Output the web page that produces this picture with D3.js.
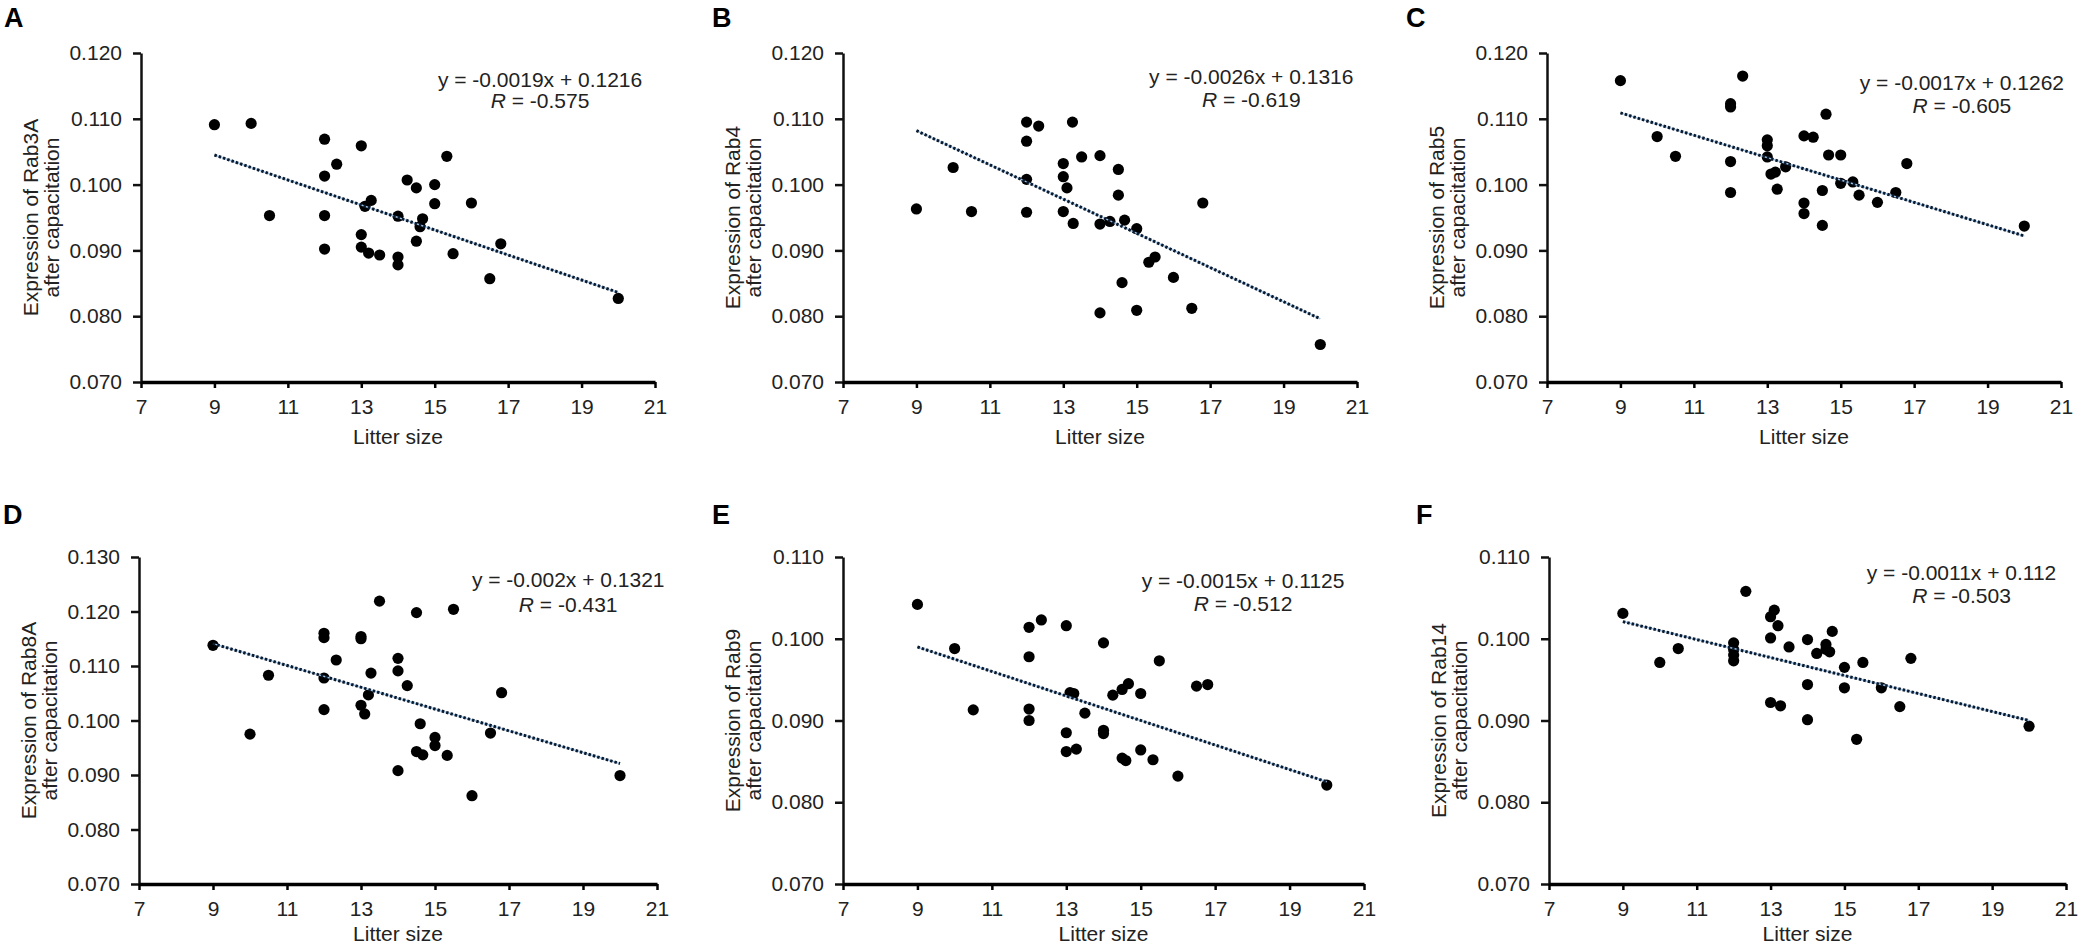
<!DOCTYPE html>
<html>
<head>
<meta charset="utf-8">
<script src="https://cdn.jsdelivr.net/npm/d3@7"></script>
<style>
  html, body { margin: 0; padding: 0; background: #fff; }
  svg { display: block; }
  text { font-family: "Liberation Sans", Arial, "DejaVu Sans", sans-serif; }
</style>
</head>
<body>
<svg id="chart" width="2082" height="948"></svg>
<script>
// ---------------- DATA ----------------
const panelLetters = ["A", "B", "C", "D", "E", "F"];
const genes = ["Rab3A", "Rab4", "Rab5", "Rab8A", "Rab9", "Rab14"];
const slopes = [-0.0019, -0.0026, -0.0017, -0.002, -0.0015, -0.0011];
const intercepts = [0.1216, 0.1316, 0.1262, 0.1321, 0.1125, 0.112];
const rValues = ["-0.575", "-0.619", "-0.605", "-0.431", "-0.512", "-0.503"];
const yMins = [0.070, 0.070, 0.070, 0.070, 0.070, 0.070];
const yMaxes = [0.120, 0.120, 0.120, 0.130, 0.110, 0.110];
const xTickValues = [7, 9, 11, 13, 15, 17, 19, 21];
const fitRange = [9, 20];

const xA = [9,10,10.5,12,12,12,12,12.33,13,13,13,13.1,13.27,13.2,13.5,14,14,14,14.25,14.5,14.5,14.67,14.6,15,15,15.33,15.5,16,16.5,16.8,20];
const yA = [0.1091,0.1093,0.0953,0.1069,0.1013,0.0953,0.0902,0.1031,0.1059,0.0924,0.0905,0.0967,0.0976,0.0896,0.0893,0.0952,0.0890,0.0878,0.1007,0.0995,0.0914,0.0948,0.0936,0.1000,0.0971,0.1043,0.0895,0.0972,0.0857,0.0910,0.0827];

const xB = [9,10,10.5,12,12,12,12,12.33,13.25,13,13,13.1,13,13.27,13.5,14,14,14,14.27,14.5,14.5,14.6,14.67,15,15,15.33,15.5,16,16.5,16.8,20];
const yB = [0.0963,0.1026,0.0959,0.1095,0.1066,0.1008,0.0958,0.1089,0.1095,0.1032,0.1012,0.0995,0.0959,0.0941,0.1042,0.1044,0.0940,0.0805,0.0944,0.1023,0.0984,0.0851,0.0946,0.0933,0.0809,0.0882,0.0890,0.0859,0.0812,0.0972,0.0757];

const xC = [9,10,10.5,12,12,12,12,12.33,13,13,13,13.1,13.22,13.27,13.5,14,14,14,14.25,14.6,14.5,14.5,14.67,15,15,15.33,15.5,16,16.5,16.8,20];
const yC = [0.1158,0.1073,0.1043,0.1123,0.1118,0.1035,0.0988,0.1165,0.1068,0.1059,0.1042,0.1016,0.1019,0.0993,0.1027,0.1074,0.0972,0.0956,0.1072,0.1107,0.0991,0.0938,0.1045,0.1045,0.1002,0.1004,0.0984,0.0973,0.0988,0.1032,0.0937];

const xD = [9,10,10.5,12,12,12,12,12.33,13,13,13,13.1,13.2,13.27,13.5,14,14,14,14.25,14.5,14.5,14.6,14.67,15,15,15.33,15.5,16,16.5,16.8,20];
const yD = [0.1138,0.0975,0.1083,0.1160,0.1152,0.1078,0.1020,0.1111,0.1154,0.1150,0.1028,0.1012,0.1047,0.1087,0.1219,0.1114,0.1091,0.0908,0.1064,0.1198,0.0943,0.0994,0.0937,0.0969,0.0954,0.0936,0.1204,0.0862,0.0977,0.1051,0.0899];

const xE = [9,10,10.5,12,12,12,12,12.33,13,13,13,13.1,13.2,13.27,13.5,14,14,14,14.25,14.5,14.5,14.67,14.6,15,15,15.33,15.5,16,16.5,16.8,20];
const yE = [0.1042,0.0988,0.0913,0.1014,0.0978,0.0914,0.0900,0.1023,0.1016,0.0885,0.0862,0.0934,0.0933,0.0865,0.0909,0.0995,0.0888,0.0884,0.0931,0.0938,0.0854,0.0945,0.0851,0.0933,0.0864,0.0852,0.0973,0.0832,0.0942,0.0944,0.0821];

const xF = [9,10,10.5,12,12,12,12,12.33,13,13.1,13,13,13.2,13.27,13.5,14,14,14,14.25,14.5,14.6,14.67,15,15,15.33,15.5,16,16.5,16.8,20,14.5];
const yF = [0.1031,0.0971,0.0988,0.0995,0.0987,0.0980,0.0973,0.1058,0.1027,0.1035,0.1001,0.0922,0.1016,0.0918,0.0990,0.0999,0.0944,0.0901,0.0982,0.0993,0.0984,0.1009,0.0965,0.0940,0.0877,0.0971,0.0940,0.0917,0.0976,0.0893,0.0987];

const xSeries = [xA, xB, xC, xD, xE, xF];
const ySeries = [yA, yB, yC, yD, yE, yF];

// ---------------- LAYOUT ----------------
const frames = [
  { l: 141, r: 655,  t: 53,  b: 382 },
  { l: 843, r: 1357, t: 53,  b: 382 },
  { l: 1547, r: 2061, t: 53, b: 382 },
  { l: 139, r: 657,  t: 557, b: 884 },
  { l: 843, r: 1364, t: 557, b: 884 },
  { l: 1549, r: 2066, t: 557, b: 884 }
];
const letterPos = [[4, 27], [712, 27], [1406, 27], [3, 524], [712, 524], [1416, 524]];
const eqCenterX = [17.87, 18.12, 18.3, 18.6, 17.75, 18.17]; // in x-data units
const eqOffsetY = [[27, 48], [24, 47], [30, 53], [23, 48], [24, 47], [16, 39]];

const FONT = 21;
const TEXT_COLOR = "#222";

const svg = d3.select("#chart");
svg.append("rect").attr("width", 2082).attr("height", 948).attr("fill", "#fff");

panelLetters.forEach((letter, i) => {
  const f = frames[i];
  const x = d3.scaleLinear().domain([7, 21]).range([f.l, f.r]);
  const y = d3.scaleLinear().domain([yMins[i], yMaxes[i]]).range([f.b, f.t]);
  const g = svg.append("g");

  // panel letter
  g.append("text")
    .attr("x", letterPos[i][0]).attr("y", letterPos[i][1])
    .attr("font-size", 27).attr("font-weight", "bold").attr("fill", "#000")
    .text(letter);

  // y axis
  const yTicks = d3.range(Math.round(yMins[i] * 1000), Math.round(yMaxes[i] * 1000) + 1, 10).map(v => v / 1000);
  const yAxis = g.append("g")
    .attr("transform", `translate(${f.l},0)`)
    .call(d3.axisLeft(y).tickValues(yTicks).tickFormat(d3.format(".3f")).tickSize(8).tickSizeOuter(0).tickPadding(11));
  yAxis.select(".domain").attr("stroke", "#111").attr("stroke-width", 2.5);
  yAxis.selectAll(".tick line").attr("stroke", "#111").attr("stroke-width", 2.5);
  yAxis.selectAll(".tick text").attr("font-size", FONT).attr("fill", TEXT_COLOR)
    .style("font-family", '"Liberation Sans", Arial, sans-serif');

  // x axis
  const xAxis = g.append("g")
    .attr("transform", `translate(0,${f.b})`)
    .call(d3.axisBottom(x).tickValues(xTickValues).tickFormat(d3.format("d")).tickSize(6).tickSizeOuter(0).tickPadding(11));
  xAxis.select(".domain").attr("stroke", "#000").attr("stroke-width", 3.5);
  xAxis.selectAll(".tick line").attr("stroke", "#000").attr("stroke-width", 2.5);
  xAxis.selectAll(".tick text").attr("font-size", FONT).attr("fill", TEXT_COLOR)
    .style("font-family", '"Liberation Sans", Arial, sans-serif');

  // axis titles
  g.append("text")
    .attr("x", (f.l + f.r) / 2).attr("y", Math.min(f.b + 62, 941))
    .attr("text-anchor", "middle").attr("font-size", FONT).attr("fill", TEXT_COLOR)
    .text("Litter size");

  const cy = (f.t + f.b) / 2;
  const yt = g.append("text")
    .attr("transform", `translate(${f.l - 110},${cy}) rotate(-90)`)
    .attr("text-anchor", "middle").attr("font-size", FONT).attr("fill", TEXT_COLOR);
  yt.append("tspan").attr("x", 0).attr("dy", "0.35em").text(`Expression of ${genes[i]}`);
  yt.append("tspan").attr("x", 0).attr("dy", "1.0em").text("after capacitation");

  // points
  const pts = xSeries[i].map((xv, k) => [xv, ySeries[i][k]]);
  g.append("g").selectAll("circle").data(pts).join("circle")
    .attr("cx", d => x(d[0])).attr("cy", d => y(d[1]))
    .attr("r", 5.6).attr("fill", "#000");

  // trend line (from the reported fit equation)
  const fit = fitRange.map(xv => [xv, slopes[i] * xv + intercepts[i]]);
  const line = d3.line().x(d => x(d[0])).y(d => y(d[1]));
  g.append("path").attr("d", line(fit)).attr("fill", "none")
    .attr("stroke", "#9cc3e5").attr("stroke-width", 1.5);
  g.append("path").attr("d", line(fit)).attr("fill", "none")
    .attr("stroke", "#0b1a2e").attr("stroke-width", 3).attr("stroke-dasharray", "2.5,2");

  // equation
  const ex = x(eqCenterX[i]);
  g.append("text")
    .attr("x", ex).attr("y", f.t + eqOffsetY[i][0]).attr("dy", "0.35em")
    .attr("text-anchor", "middle").attr("font-size", FONT).attr("fill", TEXT_COLOR)
    .text(`y = ${slopes[i]}x + ${intercepts[i]}`);
  const rt = g.append("text")
    .attr("x", ex).attr("y", f.t + eqOffsetY[i][1]).attr("dy", "0.35em")
    .attr("text-anchor", "middle").attr("font-size", FONT).attr("fill", TEXT_COLOR);
  rt.append("tspan").attr("font-style", "italic").text("R");
  rt.append("tspan").text(` = ${rValues[i]}`);
});
</script>
</body>
</html>
